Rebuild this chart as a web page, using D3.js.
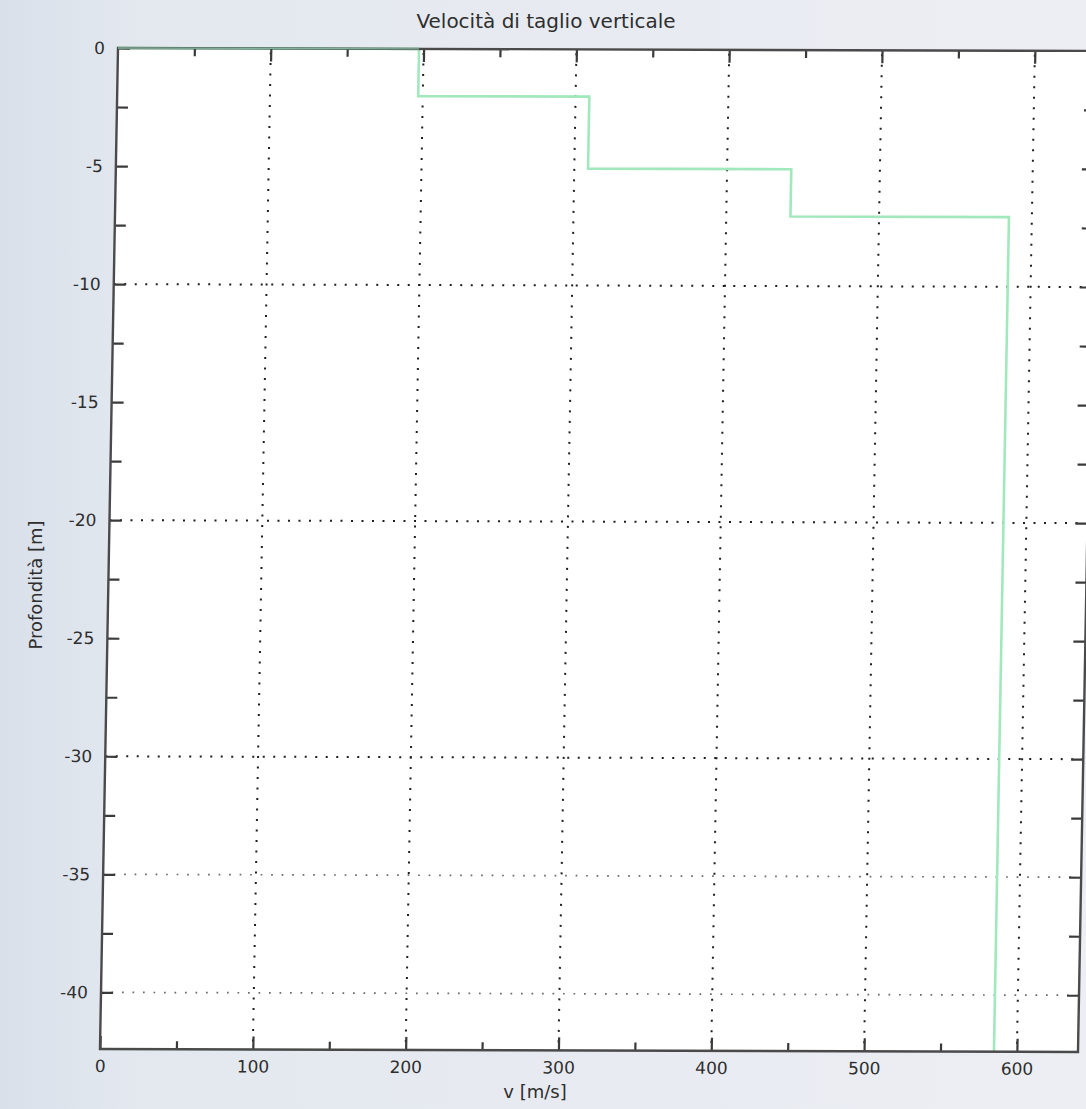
<!DOCTYPE html>
<html>
<head>
<meta charset="utf-8">
<script src="https://cdn.jsdelivr.net/npm/d3@7"></script>
<style>
  html, body { margin: 0; padding: 0; background: #eceff4; }
  svg { display: block; }
  text { font-family: "DejaVu Sans", Verdana, sans-serif; fill: #2e2e2e; }
</style>
</head>
<body>
<svg id="chart" width="1086" height="1109"></svg>
<script>
// ---- data ----
const layerVelocity = [197, 309, 442, 585];         // v [m/s] of each layer
const layerTopDepth = [0, -2.0, -5.05, -7.05];      // top of each layer [m]
const layerBottomDepth = [-2.0, -5.05, -7.05, -42.4]; // bottom of each layer [m]
const xDomain = [0, 640];
const yDomain = [-42.4, 0];
const xMajorTicks = [0, 100, 200, 300, 400, 500, 600];
const xMinorTicks = [50, 150, 250, 350, 450, 550];
const yMajorTicks = [0, -5, -10, -15, -20, -25, -30, -35, -40];
const yMinorTicks = [-2.5, -7.5, -12.5, -17.5, -22.5, -27.5, -32.5, -37.5];
const xGridValues = [100, 200, 300, 400, 500, 600];
const yGridStrong = [-10, -20, -30];
const yGridFaint = [-35, -40];
const titleText = "Velocità di taglio verticale";
const xLabelText = "v [m/s]";
const yLabelText = "Profondità [m]";

// ---- layout ----
const W = 978, H = 1001;
const svg = d3.select("#chart");

// scanned-paper background
const defs = svg.append("defs");
const grad = defs.append("linearGradient").attr("id", "bg").attr("x1", 0).attr("x2", 1).attr("y1", 0).attr("y2", 0);
grad.append("stop").attr("offset", "0%").attr("stop-color", "#d9e0ea");
grad.append("stop").attr("offset", "12%").attr("stop-color", "#e3e8ef");
grad.append("stop").attr("offset", "100%").attr("stop-color", "#eceef3");
svg.append("rect").attr("width", 1086).attr("height", 1109).attr("fill", "url(#bg)");

svg.append("text")
  .attr("x", 546).attr("y", 28)
  .attr("text-anchor", "middle")
  .style("font-size", "20px")
  .text(titleText);

// the scan is slightly sheared; reproduce it with one transform
const g = svg.append("g").attr("transform", "matrix(1, 0.003, -0.018, 1, 118, 48)");

const x = d3.scaleLinear().domain(xDomain).range([0, W]);
const y = d3.scaleLinear().domain(yDomain).range([H, 0]);

g.append("rect").attr("width", W).attr("height", H).attr("fill", "#ffffff");

// grid
const grid = g.append("g");
grid.selectAll(".vg").data(xGridValues).join("line")
  .attr("x1", d => x(d)).attr("x2", d => x(d))
  .attr("y1", 4).attr("y2", H)
  .attr("stroke", "#1e1e1e").attr("stroke-width", 2)
  .attr("stroke-dasharray", "2 8.5");
grid.selectAll(".hg").data(yGridStrong).join("line")
  .attr("x1", 0).attr("x2", W)
  .attr("y1", d => y(d)).attr("y2", d => y(d))
  .attr("stroke", "#1e1e1e").attr("stroke-width", 2)
  .attr("stroke-dasharray", "2 8.5");
grid.selectAll(".hgf").data(yGridFaint).join("line")
  .attr("x1", 0).attr("x2", W)
  .attr("y1", d => y(d)).attr("y2", d => y(d))
  .attr("stroke", "#6a6a6a").attr("stroke-width", 1.7)
  .attr("stroke-dasharray", "1.7 8.8");

// step profile
const pts = [[0, layerTopDepth[0]]];
layerVelocity.forEach((v, i) => {
  pts.push([v, layerTopDepth[i]]);
  pts.push([v, layerBottomDepth[i]]);
});
const line = d3.line().x(d => x(d[0])).y(d => y(d[1]));
g.append("path").datum(pts)
  .attr("d", line)
  .attr("fill", "none")
  .attr("stroke", "#a2e8bd")
  .attr("stroke-width", 2.6);

// axes
function styleAxis(sel) {
  sel.select(".domain").remove();
  sel.selectAll(".tick line").attr("stroke", "#3a3a3a").attr("stroke-width", 2.2);
  sel.selectAll(".tick text").style("font-size", "17px").attr("fill", "#2e2e2e");
}
const fmt = d => String(d);

g.append("g").attr("transform", `translate(0,${H})`)
  .call(d3.axisBottom(x).tickValues(xMajorTicks).tickSize(-13).tickPadding(11).tickFormat(fmt))
  .call(styleAxis);
g.append("g").attr("transform", `translate(0,${H})`)
  .call(d3.axisBottom(x).tickValues(xMinorTicks).tickSize(-8).tickFormat(""))
  .call(styleAxis);
g.append("g")
  .call(d3.axisTop(x).tickValues(xMajorTicks.slice(1)).tickSize(-13).tickFormat(""))
  .call(styleAxis);
g.append("g")
  .call(d3.axisTop(x).tickValues(xMinorTicks).tickSize(-8).tickFormat(""))
  .call(styleAxis);

g.append("g")
  .call(d3.axisLeft(y).tickValues(yMajorTicks).tickSize(-12).tickPadding(13).tickFormat(fmt))
  .call(styleAxis);
g.append("g")
  .call(d3.axisLeft(y).tickValues(yMinorTicks).tickSize(-11).tickFormat(""))
  .call(styleAxis);
g.append("g").attr("transform", `translate(${W},0)`)
  .call(d3.axisRight(y).tickValues(yMajorTicks.slice(1)).tickSize(-12).tickFormat(""))
  .call(styleAxis);
g.append("g").attr("transform", `translate(${W},0)`)
  .call(d3.axisRight(y).tickValues(yMinorTicks).tickSize(-11).tickFormat(""))
  .call(styleAxis);

// frame
g.append("rect").attr("width", W).attr("height", H)
  .attr("fill", "none").attr("stroke", "#4a4a4a").attr("stroke-width", 2.4);
// green along the top edge, over the frame
g.append("line")
  .attr("x1", x(0)).attr("x2", x(layerVelocity[0]))
  .attr("y1", y(0)).attr("y2", y(0))
  .attr("stroke", "#8fcfb0").attr("stroke-width", 1.4).attr("opacity", 0.8);

// axis titles (placed in page coordinates so they stay inside the frame)
svg.append("text")
  .attr("x", 535).attr("y", 1098)
  .attr("text-anchor", "middle")
  .style("font-size", "18px")
  .text(xLabelText);
svg.append("text")
  .attr("transform", "translate(42,585) rotate(-90)")
  .attr("text-anchor", "middle")
  .style("font-size", "18px")
  .text(yLabelText);
</script>
</body>
</html>
